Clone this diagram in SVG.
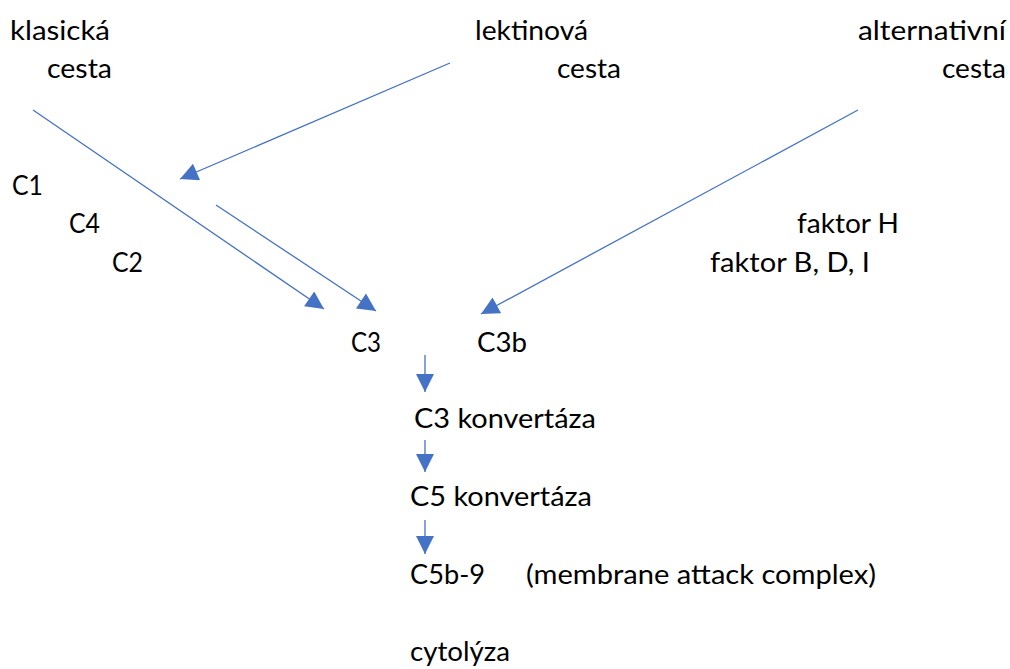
<svg xmlns="http://www.w3.org/2000/svg" width="1010" height="669" viewBox="0 0 1010 669">
<style>
text{font-family:"Lato","Open Sans","Liberation Sans",sans-serif;font-size:26px;fill:#000}
.c line{stroke:#4472C4;stroke-width:1.3;fill:none;marker-end:url(#ah)}
</style>
<defs>
<marker id="ah" viewBox="0 0 10 10" refX="10" refY="5" markerWidth="20" markerHeight="18" markerUnits="userSpaceOnUse" orient="auto">
<path d="M0,0 L10,5 L0,10 Z" fill="#4472C4"/>
</marker>
</defs>
<rect width="1010" height="669" fill="#fff"/>
<g id="klasicka"><text x="10" y="40" textLength="100" lengthAdjust="spacingAndGlyphs">klasická</text><text x="47" y="78" textLength="65" lengthAdjust="spacingAndGlyphs">cesta</text></g>
<g id="lektinova"><text x="475" y="40" textLength="113" lengthAdjust="spacingAndGlyphs">lektinová</text><text x="557" y="78" textLength="64" lengthAdjust="spacingAndGlyphs">cesta</text></g>
<g id="alternativni"><text x="858" y="40" textLength="148" lengthAdjust="spacingAndGlyphs">alternativní</text><text x="942" y="78" textLength="64" lengthAdjust="spacingAndGlyphs">cesta</text></g>
<g id="c1"><text x="12" y="195" textLength="31" lengthAdjust="spacingAndGlyphs">C1</text></g>
<g id="c4"><text x="69" y="233" textLength="31" lengthAdjust="spacingAndGlyphs">C4</text></g>
<g id="c2"><text x="112" y="272" textLength="31" lengthAdjust="spacingAndGlyphs">C2</text></g>
<g id="faktorH"><text x="797" y="233" textLength="102" lengthAdjust="spacingAndGlyphs">faktor H</text></g>
<g id="faktorBDI"><text x="710" y="272" textLength="160" lengthAdjust="spacingAndGlyphs">faktor B, D, I</text></g>
<g id="c3"><text x="351" y="352" textLength="30" lengthAdjust="spacingAndGlyphs">C3</text></g>
<g id="c3b"><text x="477" y="352" textLength="50" lengthAdjust="spacingAndGlyphs">C3b</text></g>
<g id="c3konv"><text x="414" y="428" textLength="182" lengthAdjust="spacingAndGlyphs">C3 konvertáza</text></g>
<g id="c5konv"><text x="410" y="506" textLength="182" lengthAdjust="spacingAndGlyphs">C5 konvertáza</text></g>
<g id="c5b9"><text x="410" y="584" textLength="75" lengthAdjust="spacingAndGlyphs">C5b-9</text><text x="526" y="584" textLength="350" lengthAdjust="spacingAndGlyphs">(membrane attack complex)</text></g>
<g id="cytolyza"><text x="410" y="661" textLength="100" lengthAdjust="spacingAndGlyphs">cytolýza</text></g>
<g id="connectors" class="c">
<line x1="33" y1="110" x2="324" y2="309"/>
<line x1="450" y1="63" x2="180" y2="179"/>
<line x1="216" y1="205" x2="376" y2="311"/>
<line x1="858" y1="110" x2="481" y2="314"/>
<line x1="425" y1="355" x2="425" y2="392"/>
<line x1="425" y1="440" x2="425" y2="472"/>
<line x1="425" y1="520" x2="425" y2="554"/>
</g>
</svg>
